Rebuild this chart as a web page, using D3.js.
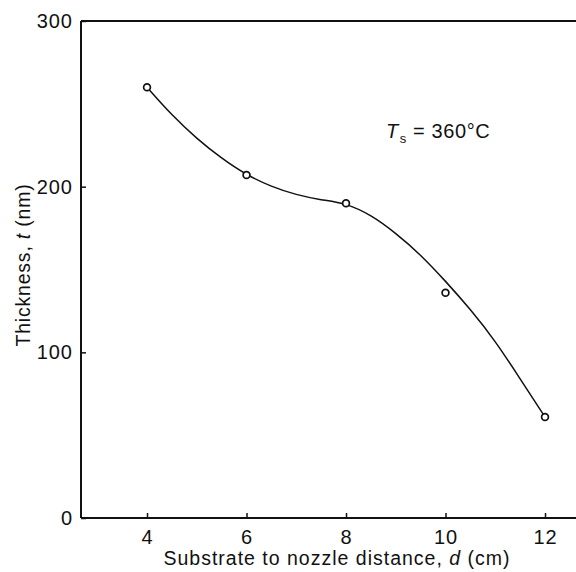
<!DOCTYPE html>
<html><head><meta charset="utf-8">
<script src="https://cdn.jsdelivr.net/npm/d3@7"></script>
<style>body{margin:0;background:#fff}svg{display:block}text{font-family:"Liberation Sans",Arial,sans-serif;fill:#111}</style>
</head><body><div id="chart"></div>
<script>
const distances = [4, 6, 8, 10, 12];
const thickness = [260, 207, 190, 136, 61];
const curveD = [4, 4.5, 5, 5.5, 6, 6.5, 7, 7.5, 8, 8.5, 9, 9.5, 10, 10.5, 11, 11.5, 12];
const curveT = [260, 243, 229, 217, 207, 200, 195, 192, 190, 183, 172, 159, 143, 126, 107, 84, 61];
const xTicks = [4, 6, 8, 10, 12];
const yTicks = [0, 100, 200, 300];

const W = 576, H = 572;
const FONT = '"Liberation Sans",Arial,sans-serif';
const svg = d3.select("#chart").append("svg").attr("width", W).attr("height", H);
const x = d3.scaleLinear().domain([2.673, 12.623]).range([81, 576]);
const y = d3.scaleLinear().domain([0, 300]).range([518, 21]);

// frame lines (left, bottom, top)
const ax = svg.append("g").attr("stroke", "#111").attr("stroke-width", 2).attr("fill", "none");
ax.append("line").attr("x1", x.range()[0]).attr("x2", x.range()[0]).attr("y1", y(300)).attr("y2", y(0));
ax.append("line").attr("x1", x.range()[0]).attr("x2", x.range()[1]).attr("y1", y(0)).attr("y2", y(0));
ax.append("line").attr("x1", x.range()[0]).attr("x2", x.range()[1]).attr("y1", y(300)).attr("y2", y(300));

// x axis
const xa = svg.append("g").attr("transform", `translate(0,${y(0)})`)
  .call(d3.axisBottom(x).tickValues(xTicks).tickSize(-5).tickPadding(12).tickFormat(d3.format("d")));
xa.select(".domain").remove();
xa.selectAll(".tick line").attr("stroke", "#111").attr("stroke-width", 1.5);
xa.selectAll(".tick text").attr("font-size", 20).attr("letter-spacing", 1).attr("font-family", FONT).attr("fill", "#111");

// y axis
const ya = svg.append("g").attr("transform", `translate(${x.range()[0]},0)`)
  .call(d3.axisLeft(y).tickValues(yTicks).tickSize(-5).tickPadding(8).tickFormat(d3.format("d")));
ya.select(".domain").remove();
ya.selectAll(".tick line").attr("stroke", "#111").attr("stroke-width", 1.5);
ya.selectAll(".tick text").attr("font-size", 20).attr("letter-spacing", 1).attr("font-family", FONT).attr("fill", "#111");

// fitted curve
const pts = curveD.map((d, i) => [d, curveT[i]]);
svg.append("path").datum(pts)
  .attr("d", d3.line().x(d => x(d[0])).y(d => y(d[1])).curve(d3.curveBasis))
  .attr("fill", "none").attr("stroke", "#111").attr("stroke-width", 1.5);

// data points
svg.append("g").selectAll("circle").data(distances.map((d, i) => [d, thickness[i]])).join("circle")
  .attr("cx", d => x(d[0])).attr("cy", d => y(d[1])).attr("r", 3.4)
  .attr("fill", "#fff").attr("stroke", "#111").attr("stroke-width", 1.7);

// axis titles
const xt = svg.append("text").attr("x", 337).attr("y", 565).attr("text-anchor", "middle")
  .attr("font-size", 19.5).attr("letter-spacing", 1);
xt.append("tspan").text("Substrate to nozzle distance, ");
xt.append("tspan").attr("font-style", "italic").text("d");
xt.append("tspan").text(" (cm)");

const yt = svg.append("text").attr("transform", "translate(30,265) rotate(-90)").attr("text-anchor", "middle")
  .attr("font-size", 19.5).attr("letter-spacing", 0.8);
yt.append("tspan").text("Thickness, ");
yt.append("tspan").attr("font-style", "italic").text("t");
yt.append("tspan").text(" (nm)");

// annotation
const an = svg.append("text").attr("x", 386).attr("y", 138).attr("font-size", 20).attr("letter-spacing", 0.6);
an.append("tspan").attr("font-style", "italic").text("T");
an.append("tspan").attr("font-size", 13).attr("dy", 5).attr("dx", 1).text("s");
an.append("tspan").attr("dy", -5).text(" = 360\u00B0C");
</script></body></html>
